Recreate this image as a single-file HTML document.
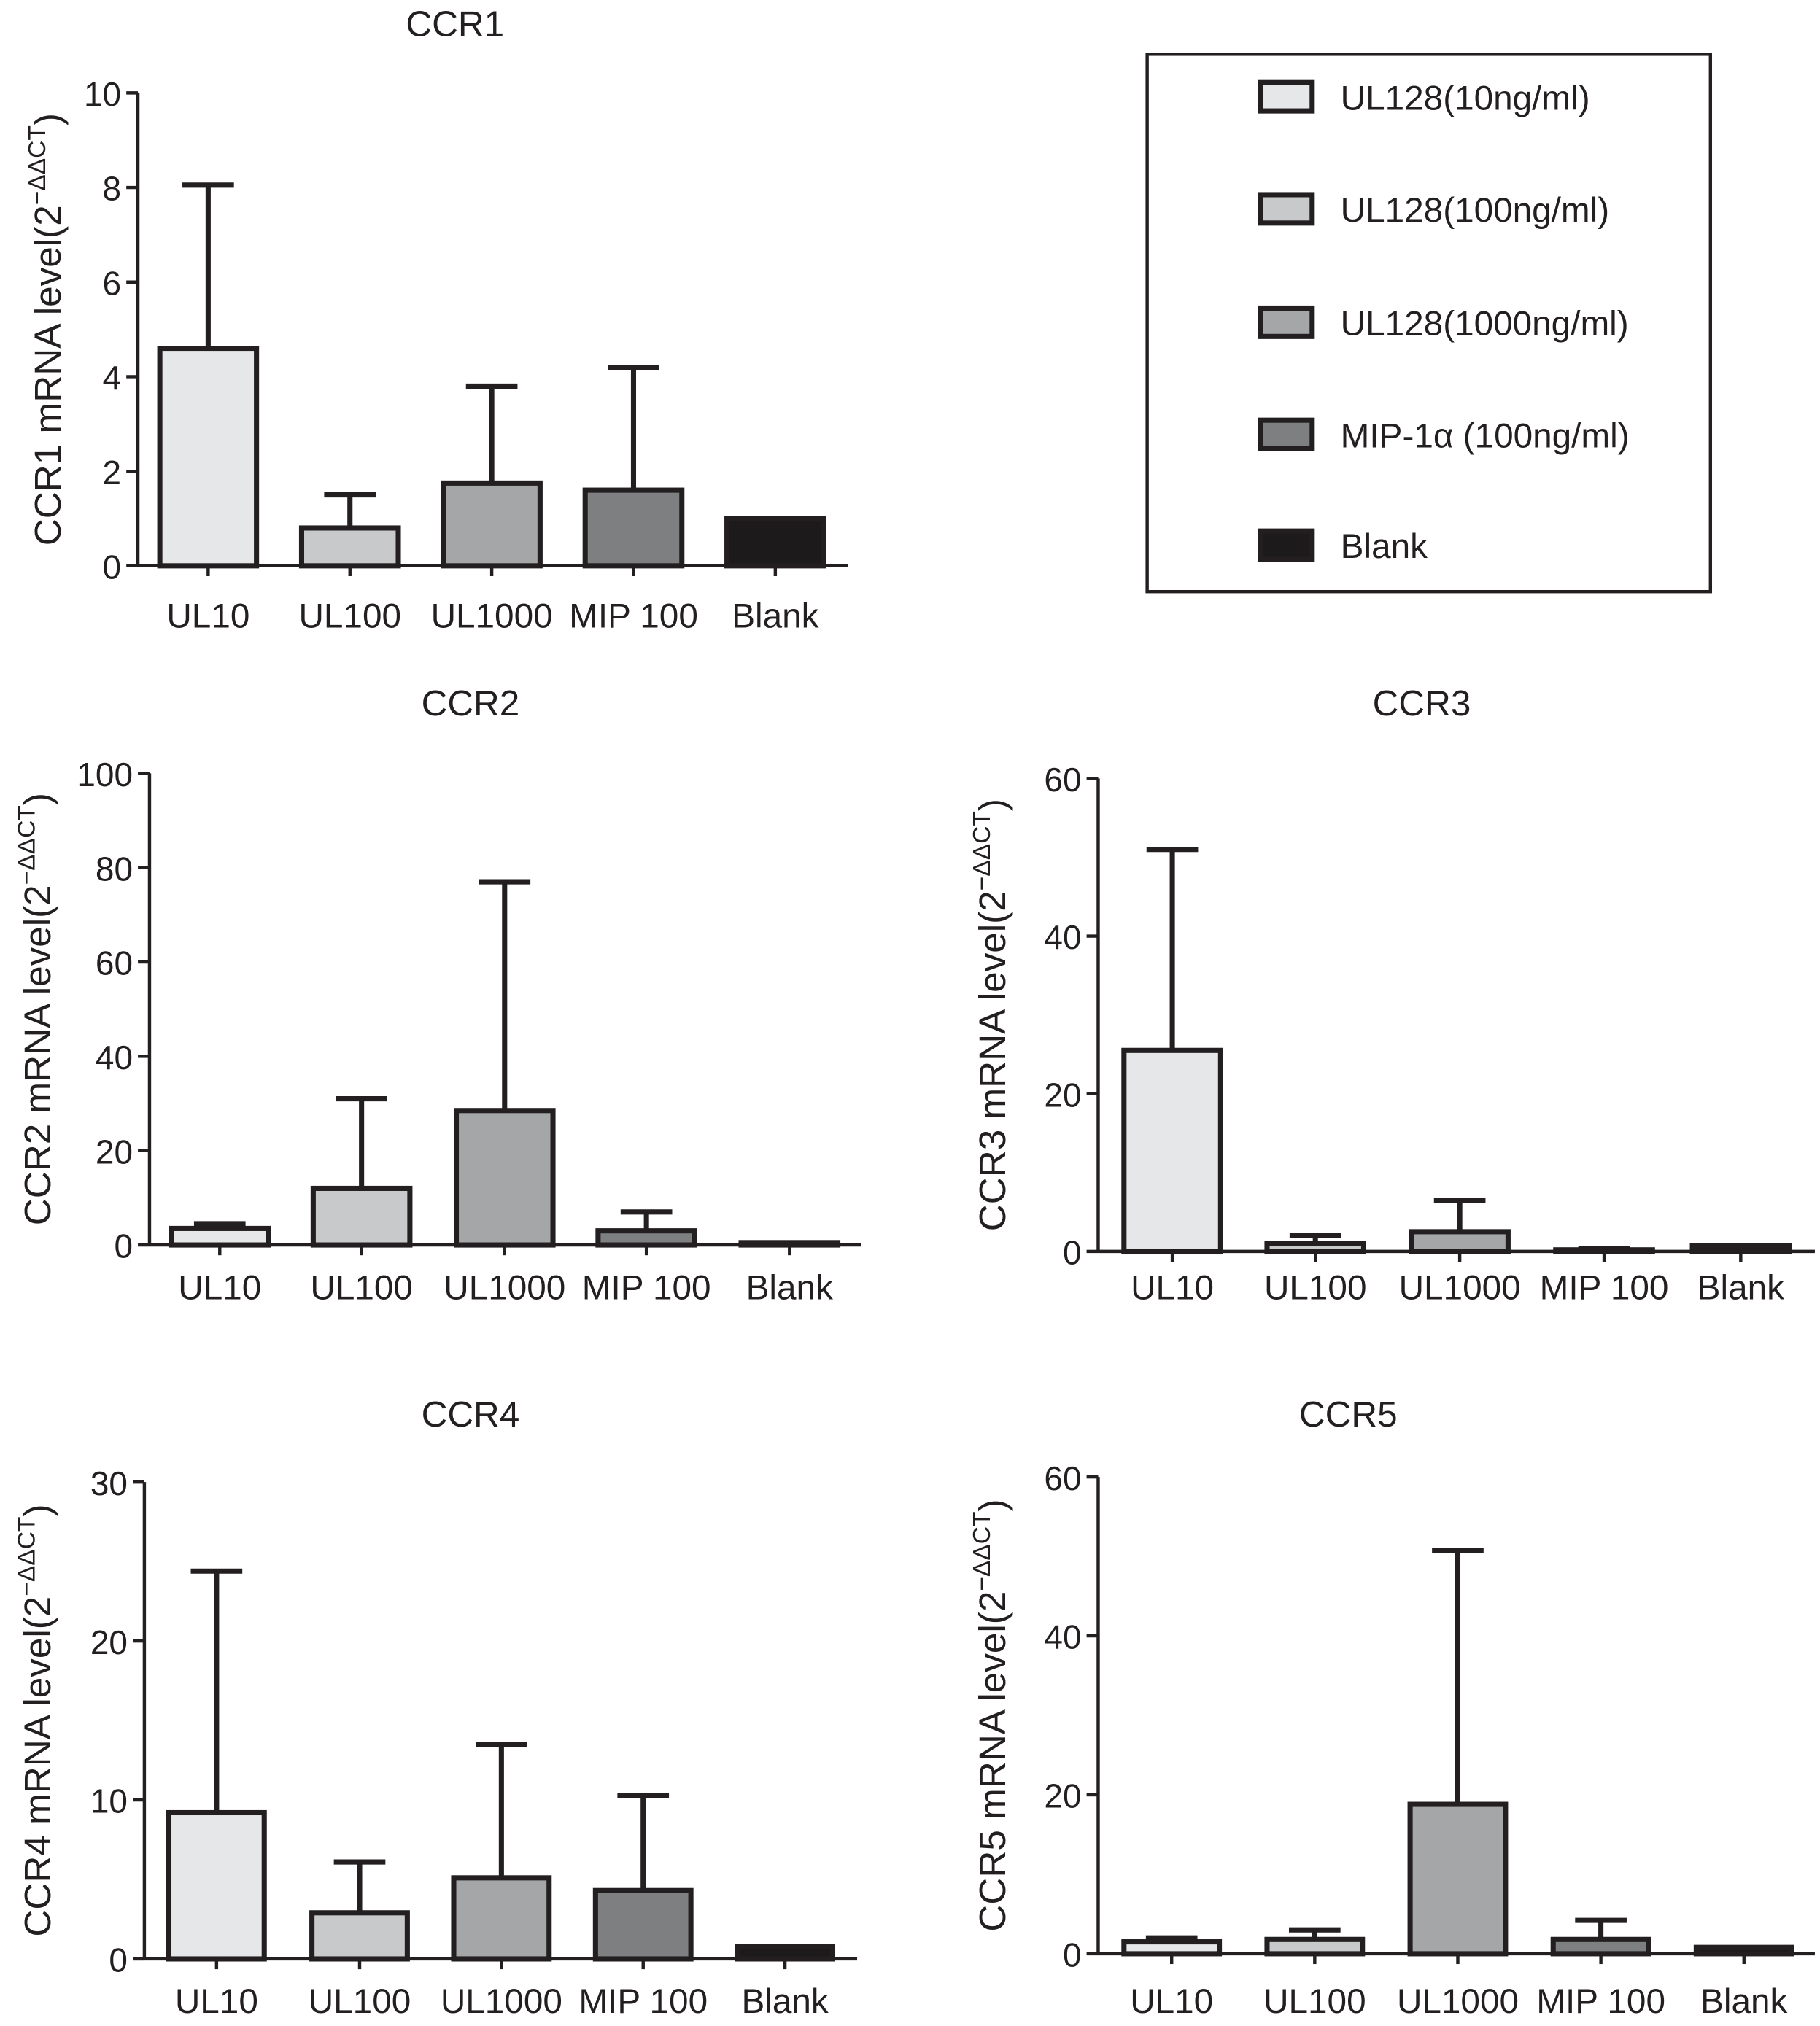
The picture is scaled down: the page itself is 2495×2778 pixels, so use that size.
<!DOCTYPE html>
<html><head><meta charset="utf-8"><style>
html,body{margin:0;padding:0;background:#fff}
svg{display:block}
text{font-family:"Liberation Sans",sans-serif;fill:#231f20}
</style></head><body>
<svg id="chart" width="2495" height="2778" viewBox="0 0 1412 1572" xmlns="http://www.w3.org/2000/svg">
<g>
<rect x="890" y="42" width="437" height="417" fill="none" stroke="#231f20" stroke-width="2.5"/>
</g>
</svg>
<script>
const categories = ["UL10","UL100","UL1000","MIP 100","Blank"];
const legendLabels = ["UL128(10ng/ml)","UL128(100ng/ml)","UL128(1000ng/ml)","MIP-1\u03b1 (100ng/ml)","Blank"];
const ccr1Values = [4.6, 0.8, 1.75, 1.6, 1.0];
const ccr1Errors = [8.05, 1.5, 3.8, 4.2, 1.0];
const ccr2Values = [3.5, 12, 28.5, 3, 0.5];
const ccr2Errors = [4.5, 31, 77, 7, 0.5];
const ccr3Values = [25.5, 1, 2.5, 0.2, 0.7];
const ccr3Errors = [51, 2, 6.5, 0.4, 0.7];
const ccr4Values = [9.2, 2.9, 5.1, 4.3, 0.8];
const ccr4Errors = [24.4, 6.1, 13.5, 10.3, 0.8];
const ccr5Values = [1.5, 1.8, 18.8, 1.8, 0.8];
const ccr5Errors = [2, 3, 50.7, 4.2, 0.8];
const ccr1Ticks = [0,2,4,6,8,10];
const ccr2Ticks = [0,20,40,60,80,100];
const ccr3Ticks = [0,20,40,60];
const ccr4Ticks = [0,10,20,30];
const ccr5Ticks = [0,20,40,60];

const NS="http://www.w3.org/2000/svg";
const svg=document.getElementById('chart');
const fills=["#e6e7e8","#c8c9cb","#a4a6a8","#7d7f81","#1c1a1b"];
function mk(tag,attrs,parent){const e=document.createElementNS(NS,tag);for(const k in attrs)e.setAttribute(k,attrs[k]);(parent||svg).appendChild(e);return e;}

const panels=[
 {name:"ccr1",title:"CCR1",tx:353,ty:18,ax:107,top:72,bot:439,xEnd:658,max:10,ticks:ccr1Ticks,vals:ccr1Values,errs:ccr1Errors,bars:[124,234,344,454,564],bw:75,ly:477,ylx:37},
 {name:"ccr2",title:"CCR2",tx:365,ty:545,ax:116,top:600,bot:966,xEnd:668,max:100,ticks:ccr2Ticks,vals:ccr2Values,errs:ccr2Errors,bars:[133,243,354,464,575],bw:75,ly:998,ylx:29},
 {name:"ccr3",title:"CCR3",tx:1103,ty:545,ax:852,top:604,bot:971,xEnd:1408,max:60,ticks:ccr3Ticks,vals:ccr3Values,errs:ccr3Errors,bars:[872,983,1095,1207,1313],bw:75,ly:998,ylx:770},
 {name:"ccr4",title:"CCR4",tx:365,ty:1097,ax:112,top:1150,bot:1520,xEnd:665,max:30,ticks:ccr4Ticks,vals:ccr4Values,errs:ccr4Errors,bars:[131,242,352,462,572],bw:74,ly:1552,ylx:29},
 {name:"ccr5",title:"CCR5",tx:1046,ty:1097,ax:852,top:1146,bot:1516,xEnd:1408,max:60,ticks:ccr5Ticks,vals:ccr5Values,errs:ccr5Errors,bars:[872,983,1094,1205,1316],bw:74,ly:1552,ylx:770}
];
panels.forEach(p=>{
 const g=mk('g',{});
 
 
 const y=v=>p.bot-(v/p.max)*(p.bot-p.top);
 const t=mk('text',{x:p.tx,y:p.ty+10,'font-size':28,'text-anchor':'middle'},g);t.textContent=p.title;
 
 
 const cy=(p.top+p.bot)/2;
 const yl=mk('text',{x:p.ylx,y:cy,'font-size':29,'text-anchor':'middle',transform:`rotate(-90 ${p.ylx} ${cy})`,dy:10},g);
 
 
 yl.innerHTML=p.title+' mRNA level(2<tspan dy="-12" font-size="19">\u2212\u0394\u0394CT</tspan><tspan dy="12">)</tspan>';
 p.vals.forEach((v,i)=>{
  const x=p.bars[i],cx=x+p.bw/2;
  const e=p.errs[i];
  if(e>v){
   const l=mk('line',{x1:cx,x2:cx,y1:y(v),y2:y(e),stroke:"#231f20","stroke-width":4},g);
   
   
   mk('line',{x1:cx-20,x2:cx+20,y1:y(e),y2:y(e),stroke:"#231f20","stroke-width":4},g);
  }
  const r=mk('rect',{x:x,y:y(v),width:p.bw,height:p.bot-y(v),fill:fills[i],stroke:"#231f20","stroke-width":4},g);
  
  
  const c=mk('text',{x:cx,y:p.ly+10,'font-size':27,'text-anchor':'middle'},g);c.textContent=categories[i];
  
  
 });
 mk('line',{x1:p.ax,x2:p.ax,y1:p.top,y2:p.bot+1,stroke:"#231f20","stroke-width":2.5},g);
 mk('line',{x1:p.ax,x2:p.xEnd,y1:p.bot,y2:p.bot,stroke:"#231f20","stroke-width":2.5},g);
 p.ticks.forEach(tv=>{
  mk('line',{x1:p.ax-9,x2:p.ax,y1:y(tv),y2:y(tv),stroke:"#231f20","stroke-width":2.5},g);
  const tt=mk('text',{x:p.ax-13,y:y(tv)+10,'font-size':26,'text-anchor':'end'},g);tt.textContent=tv;
  
  
 });
 p.bars.forEach(bx=>{mk('line',{x1:bx+p.bw/2,x2:bx+p.bw/2,y1:p.bot,y2:p.bot+8,stroke:"#231f20","stroke-width":2.5},g);});
});
const ly=[75,162,250,337,423];
legendLabels.forEach((lab,i)=>{
 const g=mk('g',{});
 
 
 mk('rect',{x:978,y:ly[i]-11,width:40,height:22,fill:fills[i],stroke:"#231f20","stroke-width":4},g);
 const t=mk('text',{x:1040,y:ly[i]+10,'font-size':27},g);t.textContent=lab;
});
</script>
</body></html>
